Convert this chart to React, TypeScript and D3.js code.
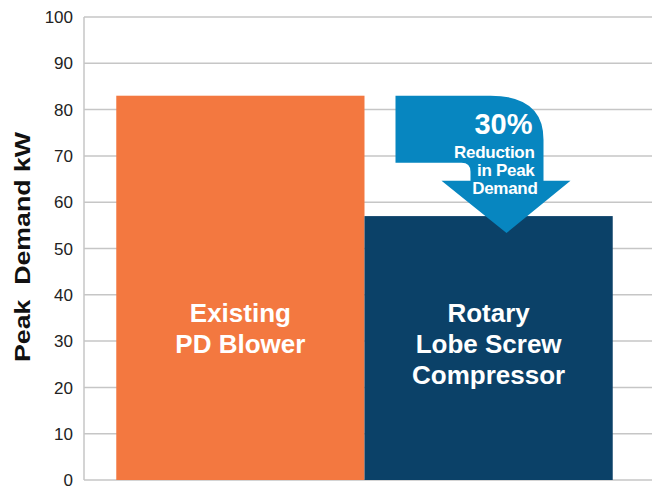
import React from "react";
import { scaleLinear, scaleBand } from "d3";

const categories = ["Existing PD Blower", "Rotary Lobe Screw Compressor"];
const demandKw = [83, 57];
const barLabels = [
  ["Existing", "PD Blower"],
  ["Rotary", "Lobe Screw", "Compressor"],
];
const yTicks = [0, 10, 20, 30, 40, 50, 60, 70, 80, 90, 100];
const barColors = ["#F37840", "#0B4168"];

const width = 652;
const height = 489;
const font = "'Liberation Sans', Arial, sans-serif";

export default function App() {
  const y = scaleLinear().domain([0, 100]).range([480, 17]);
  const x = scaleBand<string>()
    .domain(categories)
    .range([84, 645])
    .paddingInner(0)
    .paddingOuter(0.13);

  // arrow annotation, anchored to the second bar and the first bar's height
  const x0 = x(categories[1]) as number;
  const top = y(demandKw[0]);
  const left = x0 + 31;
  const shaftL = x0 + 106;
  const shaftR = x0 + 179;
  const headL = x0 + 77;
  const headR = x0 + 206;
  const tipX = x0 + 142;
  const bodyBottom = top + 67;
  const headY = top + 85;
  const tipY = y(demandKw[1]) + 17;
  const arrow = [
    `M${left},${top}`,
    `L${shaftR - 53},${top}`,
    `Q${shaftR},${top} ${shaftR},${top + 44}`,
    `L${shaftR},${headY}`,
    `L${headR},${headY}`,
    `L${tipX},${tipY}`,
    `L${headL},${headY}`,
    `L${shaftL},${headY}`,
    `L${shaftL},${bodyBottom + 9}`,
    `Q${shaftL},${bodyBottom} ${shaftL - 9},${bodyBottom}`,
    `L${left},${bodyBottom}`,
    "Z",
  ].join(" ");

  return (
    <svg
      width={width}
      height={height}
      style={{ position: "absolute", left: 0, top: 0, background: "#fff" }}
      fontFamily={font}
    >
      {/* grid */}
      {yTicks.map((t) => (
        <line
          key={t}
          x1={84}
          x2={width}
          y1={y(t)}
          y2={y(t)}
          stroke="#c6c6c6"
          strokeWidth={1.5}
        />
      ))}
      <line x1={84} x2={84} y1={y(100)} y2={y(0)} stroke="#c6c6c6" strokeWidth={1.5} />
      {yTicks.map((t) => (
        <text
          key={"l" + t}
          x={73}
          y={y(t)}
          dy="0.36em"
          textAnchor="end"
          fontSize={17}
          fill="#222"
        >
          {t}
        </text>
      ))}
      <text
        transform={`translate(30,247) rotate(-90)`}
        textAnchor="middle"
        fontSize={22}
        fontWeight="bold"
        fill="#111"
        textLength={230}
        lengthAdjust="spacingAndGlyphs"
        style={{ whiteSpace: "pre" }}
      >
        {"Peak  Demand kW"}
      </text>

      {/* bars */}
      {categories.map((c, i) => (
        <rect
          key={c}
          x={x(c)}
          y={y(demandKw[i])}
          width={x.bandwidth()}
          height={y(0) - y(demandKw[i])}
          fill={barColors[i]}
        />
      ))}
      {categories.map((c, i) => (
        <text
          key={"b" + c}
          x={(x(c) as number) + x.bandwidth() / 2}
          y={322}
          textAnchor="middle"
          fontSize={26}
          fontWeight="bold"
          fill="#fff"
        >
          {barLabels[i].map((line, j) => (
            <tspan key={j} x={(x(c) as number) + x.bandwidth() / 2} dy={j === 0 ? 0 : 31}>
              {line}
            </tspan>
          ))}
        </text>
      ))}

      {/* reduction arrow */}
      <path d={arrow} fill="#0786C0" />
      <g fill="#fff" fontWeight="bold" textAnchor="end">
        <text x={x0 + 168} y={top + 38} fontSize={29}>30%</text>
        <text x={x0 + 170} y={top + 62} fontSize={17} letterSpacing={-0.3}>Reduction</text>
        <text x={x0 + 170} y={top + 80} fontSize={17} letterSpacing={-0.3}>in Peak</text>
        <text x={x0 + 173} y={top + 98} fontSize={17} letterSpacing={-0.3}>Demand</text>
      </g>
    </svg>
  );
}
